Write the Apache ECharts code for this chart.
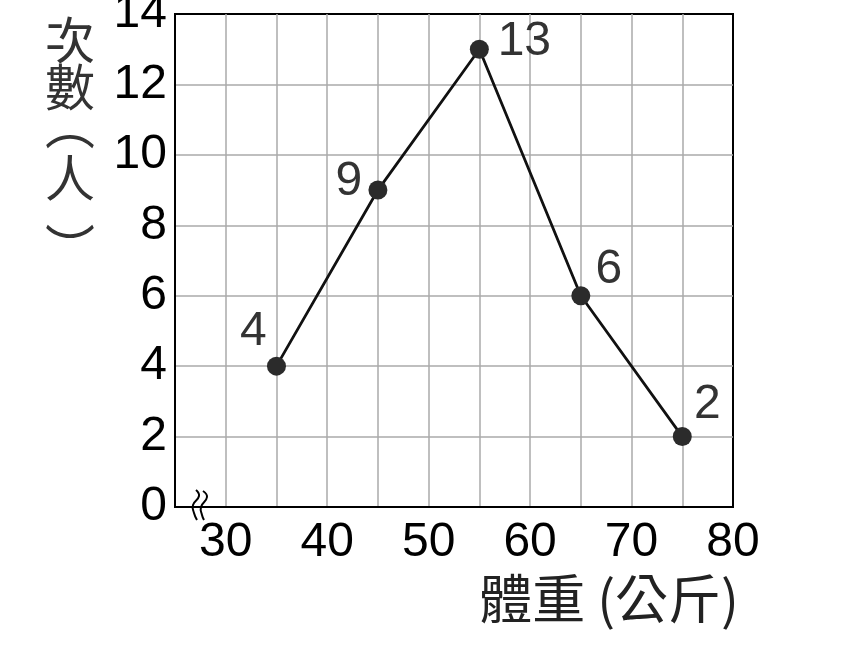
<!DOCTYPE html>
<html>
<head>
<meta charset="utf-8">
<script src="https://cdn.jsdelivr.net/npm/echarts@6/dist/echarts.min.js"></script>
<style>html,body{margin:0;padding:0;background:#fff}#c{width:850px;height:650px}</style>
</head>
<body>
<div id="c"></div>
<script>
const weights = [35, 45, 55, 65, 75];
const counts = [4, 9, 13, 6, 2];
const xMin = 25, xMax = 80, xStep = 5;
const yMin = 0, yMax = 14, yStep = 2;
const xName = '體重 (公斤)';
const yName = '{c|次}\n{c|數}\n{o|︵}\n{s| }\n{c|人}\n{e|︶}';

// label placement (style only), per point index
const labelShift = [[-23, -34], [-29, -8], [45, -7], [28, -26], [25, -32]];

const chart = echarts.init(document.getElementById('c'));
const numFont = '"Liberation Sans", Arial, sans-serif';
const cjkFont = '"Noto Sans CJK TC", "Noto Sans CJK SC", sans-serif';
const cjkStyle = { fontFamily: cjkFont, fontSize: 50, color: '#333', align: 'center' };

chart.setOption({
  animation: false,
  grid: { left: 175, right: 117, top: 14, bottom: 143, containLabel: false, outerBoundsMode: 'none',
    show: true, borderColor: '#000', borderWidth: 2, backgroundColor: 'transparent' },
  xAxis: {
    type: 'value', min: xMin, max: xMax, interval: xStep,
    axisLine: { show: true, lineStyle: { color: '#000', width: 2 } },
    axisTick: { show: false },
    axisLabel: { color: '#000', fontFamily: numFont, fontSize: 48, margin: 12, hideOverlap: false,
      showMinLabel: true, showMaxLabel: true,
      formatter: v => (v % 10 === 0 ? String(v) : '') },
    splitLine: { show: true, showMinLine: false, showMaxLine: false, lineStyle: { color: '#aaa', width: 1.5 } },
    name: xName, nameLocation: 'end', nameGap: 6, nameMoveOverlap: false,
    nameTextStyle: { fontFamily: cjkFont, fontSize: 53, color: '#222', align: 'right', verticalAlign: 'top', padding: [65, 0, 0, 0] }
  },
  yAxis: {
    type: 'value', min: yMin, max: yMax, interval: yStep,
    axisLine: { show: true, lineStyle: { color: '#000', width: 2 } },
    axisTick: { show: false },
    axisLabel: { color: '#000', fontFamily: numFont, fontSize: 48, margin: 8, hideOverlap: false,
      showMinLabel: true, showMaxLabel: true },
    splitLine: { show: true, showMinLine: false, showMaxLine: false, lineStyle: { color: '#aaa', width: 1.5 } },
    name: yName, nameLocation: 'end', nameGap: -2, nameMoveOverlap: false,
    nameTextStyle: {
      align: 'right', verticalAlign: 'top', padding: [0, 80, 0, 0],
      rich: {
        c: Object.assign({ lineHeight: 47 }, cjkStyle),
        o: Object.assign({ lineHeight: 30 }, cjkStyle),
        s: { lineHeight: 14, fontSize: 8 },
        e: Object.assign({ lineHeight: 94 }, cjkStyle)
      }
    }
  },
  series: [{
    type: 'line',
    data: counts.map((v, i) => ({
      value: [weights[i], v],
      label: { offset: labelShift[i] }
    })),
    symbol: 'circle', symbolSize: 19,
    itemStyle: { color: '#2b2b2b' },
    lineStyle: { color: '#111', width: 2.8 },
    label: { show: true, position: 'inside', color: '#333', fontFamily: numFont, fontSize: 48 },
    z: 5
  }]
});

// axis-break mark near the x-axis origin
const o = chart.convertToPixel({ xAxisIndex: 0, yAxisIndex: 0 }, [xMin, yMin]);
function wave(pts) {
  return {
    type: 'polyline',
    shape: { points: pts.map(p => [o[0] + p[0], o[1] + p[1]]), smooth: 0.5 },
    style: { stroke: '#000', lineWidth: 2, fill: null },
    z: 100
  };
}
chart.setOption({ graphic: [
  wave([[21, -17], [24, -11], [18, -2], [19, 6], [22, 13]]),
  wave([[28, -16], [32, -10], [26, 0], [27, 8], [29, 13]])
] });
</script>
</body>
</html>
